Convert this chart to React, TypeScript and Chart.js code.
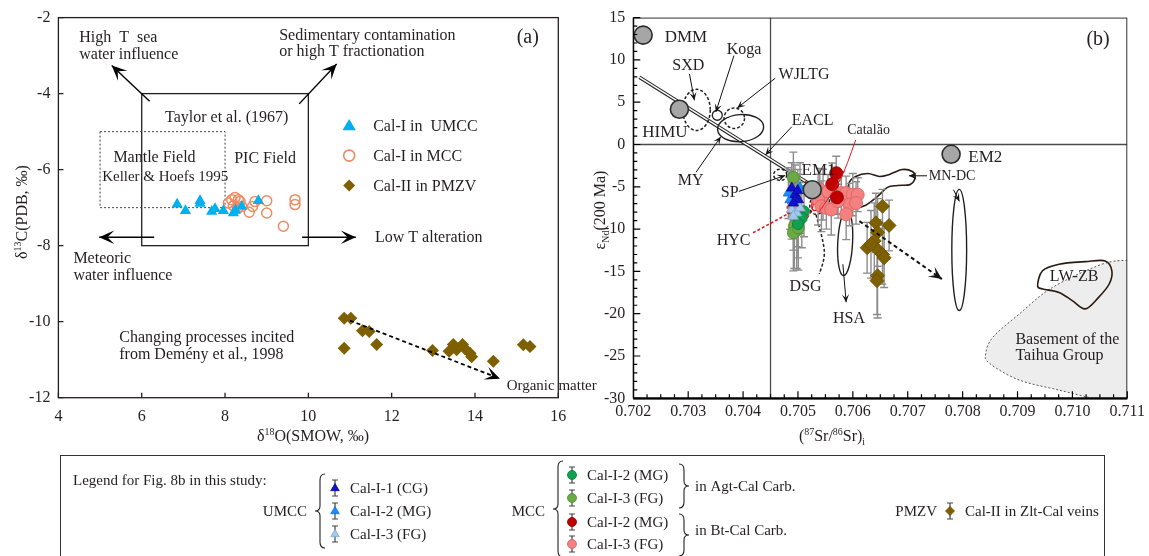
import React, { useEffect, useRef } from "react";
import { Chart, registerables } from "chart.js";
Chart.register(...registerables);

const FONT = '"Liberation Serif", "Times New Roman", serif';
const INK = "#231f20";

// ---------------- Panel (a) data ----------------
const d18OTicks = [4, 6, 8, 10, 12, 14, 16];
const d13CTicks = [-2, -4, -6, -8, -10, -12];

const umccA_d18O = [6.85, 7.05, 7.4, 7.4, 7.68, 7.76, 7.96, 8.2, 8.25, 8.4, 8.8];
const umccA_d13C = [-6.91, -7.08, -6.82, -6.89, -7.1, -7.03, -7.08, -7.14, -7.07, -6.97, -6.82];

const mccA_d18O = [8.08, 8.16, 8.24, 8.32, 8.36, 8.2, 8.3, 8.4, 8.58, 8.66, 8.72, 9.0, 9.0, 9.4, 9.68, 9.68];
const mccA_d13C = [-6.88, -6.79, -6.73, -6.79, -6.84, -6.95, -7.02, -6.97, -7.12, -6.97, -6.84, -6.82, -7.14, -7.49, -6.79, -6.92];

const pmzvA_d18O = [10.86, 11.02, 11.3, 11.46, 10.86, 11.64, 12.98, 13.38, 13.48, 13.56, 13.7, 13.76, 13.88, 13.92, 14.44, 15.16, 15.32];
const pmzvA_d13C = [-9.91, -9.91, -10.24, -10.26, -10.7, -10.6, -10.76, -10.78, -10.6, -10.74, -10.6, -10.71, -10.83, -10.92, -11.04, -10.61, -10.65];

// ---------------- Panel (b) data ----------------
const srTicks = [0.702, 0.703, 0.704, 0.705, 0.706, 0.707, 0.708, 0.709, 0.71, 0.711];
const ndTicks = [15, 10, 5, 0, -5, -10, -15, -20, -25, -30];
const srBulkEarth = 0.7045;
const ndChur = 0;

const endMemberNames = ["DMM", "HIMU", "EM1", "EM2"];
const endMemberSr = [0.70218, 0.70284, 0.70526, 0.70779];
const endMemberNd = [12.93, 4.17, -5.34, -1.16];
const kogaSr = [0.70353];
const kogaNd = [3.46];

const umccCG_Sr = [0.704886, 0.704947, 0.705007, 0.704916, 0.704994];
const umccCG_Nd = [-5.15, -5.93, -6.52, -6.91, -5.45];
const umccCG_Err = [3.0, 3.5, 3.0, 3.5, 2.5];

const umccMG_Sr = [0.704826, 0.704857, 0.705037];
const umccMG_Nd = [-5.74, -6.52, -5.15];
const umccMG_Err = [3.0, 3.5, 3.0];

const umccFG_Sr = [0.704886, 0.704976, 0.705037, 0.704916];
const umccFG_Nd = [-7.69, -8.09, -7.5, -8.48];
const umccFG_Err = [3.5, 4.0, 3.0, 4.0];

const agtMG_Sr = [0.70511, 0.70507, 0.705];
const agtMG_Nd = [-7.9, -8.7, -9.4];
const agtMG_Err = [3.0, 3.5, 4.0];

const agtFG_Sr = [0.704916, 0.704934, 0.704976, 0.704916, 0.705007];
const agtFG_Nd = [-3.9, -9.65, -10.15, -10.44, -9.85];
const agtFG_Err = [3.0, 5.0, 4.5, 4.5, 5.0];

const btMG_Sr = [0.705697, 0.705625, 0.70571];
const btMG_Nd = [-3.39, -4.68, -6.25];
const btMG_Err = [2.0, 2.5, 2.0];

const btFG_Sr = [0.705398, 0.705457, 0.705548, 0.705367, 0.705427, 0.705517, 0.705607, 0.705788, 0.705878, 0.705999, 0.706089, 0.705939, 0.706058, 0.705878, 0.70573];
const btFG_Nd = [-5.34, -5.93, -5.54, -6.52, -7.3, -7.5, -7.69, -5.74, -5.74, -5.93, -5.93, -7.1, -6.91, -8.24, -6.7];
const btFG_Err = [2.5, 3.0, 2.0, 3.0, 3.0, 2.5, 3.0, 2.5, 2.0, 2.5, 2.0, 2.5, 2.5, 3.0, 2.0];

const pmzvB_Sr = [0.70654, 0.70642, 0.70666, 0.70645, 0.70626, 0.70639, 0.70645, 0.70654, 0.70657, 0.70645, 0.70644, 0.70633];
const pmzvB_Nd = [-7.3, -9.26, -9.57, -10.4, -12.2, -11.4, -12.4, -13.0, -13.4, -15.5, -16.1, -11.8];
const pmzvB_Err = [2.0, 3.5, 3.0, 4.0, 3.0, 4.5, 3.5, 3.5, 3.5, 5.0, 4.0, 4.0];

// field outlines (data units)
const mnDcSr = [0.705908, 0.705926, 0.706052, 0.706269, 0.706486, 0.706666, 0.7069, 0.707081, 0.707135, 0.707045, 0.70681, 0.70663, 0.70645, 0.706234, 0.706017, 0.705908];
const mnDcNd = [-6.72, -4.6, -3.78, -3.43, -3.78, -3.54, -2.96, -3.19, -3.9, -4.72, -4.84, -5.07, -6.13, -7.18, -7.54, -7.18];
const lwZbSr = [0.709366, 0.709456, 0.709756, 0.710237, 0.710598, 0.710719, 0.71067, 0.710477, 0.710237, 0.709997, 0.709756, 0.709456];
const lwZbNd = [-16.69, -14.93, -14.15, -13.84, -13.76, -14.93, -16.49, -18.07, -19.43, -18.46, -17.48, -17.08];
const basementSr = [0.711, 0.710538, 0.709637, 0.709034, 0.708554, 0.708421, 0.708493, 0.709034, 0.709756, 0.710358];
const basementNd = [-13.68, -14.15, -16.89, -20.02, -22.76, -24.71, -25.89, -27.85, -29.03, -30.0];
const dsgTailSr = [0.70533, 0.70548, 0.70539];
const dsgTailNd = [-8.3, -12.6, -15.3];
const mantleArraySr = [0.70211, 0.70519];
const mantleArrayNd = [7.96, -4.57];

// ---------------- annotation layout ----------------
type P = [number, number];
const aBoxes = [
  { x0: 6, x1: 10, y0: -8, y1: -4, dash: [] as number[] },
  { x0: 5, x1: 8, y0: -7, y1: -5, dash: [2, 2] },
];
const aArrows: { from: P; to: P; dash?: number[] }[] = [
  { from: [6.19, -4.2], to: [5.28, -3.26] },
  { from: [9.78, -4.27], to: [10.68, -3.22] },
  { from: [6.3, -7.78], to: [4.98, -7.78] },
  { from: [9.85, -7.78], to: [11.14, -7.78] },
  { from: [11.0, -9.97], to: [14.6, -11.5], dash: [4, 3] },
];
const aLabels: { t: string; at: P; size?: number }[] = [
  { t: "High  T  sea", at: [4.5, -2.65] },
  { t: "water influence", at: [4.5, -3.09] },
  { t: "Sedimentary contamination", at: [9.3, -2.58] },
  { t: "or high T fractionation", at: [9.3, -3.02] },
  { t: "(a)", at: [15.0, -2.68], size: 20 },
  { t: "Taylor et al. (1967)", at: [6.56, -4.74] },
  { t: "Mantle Field", at: [5.32, -5.81] },
  { t: "Keller & Hoefs 1995", at: [5.05, -6.31], size: 15 },
  { t: "PIC Field", at: [8.22, -5.83] },
  { t: "Low T alteration", at: [11.6, -7.9] },
  { t: "Meteoric", at: [4.36, -8.46] },
  { t: "water influence", at: [4.36, -8.9] },
  { t: "Changing processes incited", at: [5.46, -10.54] },
  { t: "from Demény et al., 1998", at: [5.46, -10.97] },
  { t: "Organic matter", at: [14.76, -11.8], size: 15 },
];
const aLegendAt: P[] = [[10.98, -4.85], [10.98, -5.63], [10.98, -6.42]];

const bEllipses = [
  { c: [0.703152, 4.09], r: [0.00025, 2.43], dash: [3, 2], color: INK, rot: 0 },
  { c: [0.70384, 3.11], r: [0.000186, 1.21], dash: [3, 2], color: INK, rot: 0 },
  { c: [0.703955, 1.94], r: [0.00042, 1.6], dash: [], color: INK, rot: -4 },
  { c: [0.704677, -3.58], r: [0.00012, 0.67], dash: [3, 2], color: INK, rot: 0 },
  { c: [0.70505, -6.9], r: [0.00023, 2.55], dash: [3, 2], color: "#e8141c", rot: 15 },
  { c: [0.7054, -6.72], r: [0.00016, 1.64], dash: [3, 2], color: INK, rot: 28 },
  { c: [0.705364, -6.48], r: [0.00009, 1.41], dash: [], color: "#e8141c", rot: 20 },
  { c: [0.70586, -11.6], r: [0.000135, 3.9], dash: [], color: INK, rot: 3 },
  { c: [0.707938, -12.47], r: [0.000135, 7.16], dash: [], color: INK, rot: 0 },
];
const bArrows: { from: P; to: P; color?: string; dash?: number[]; head?: number }[] = [
  { from: [0.703023, 8.35], to: [0.703113, 5.22] },
  { from: [0.703834, 10.51], to: [0.703504, 3.85] },
  { from: [0.704586, 7.84], to: [0.703894, 4.32] },
  { from: [0.704886, 2.09], to: [0.704406, -1.23] },
  { from: [0.703143, -3.28], to: [0.703594, 0.92] },
  { from: [0.703924, -5.54], to: [0.704767, -3.66] },
  { from: [0.707351, -3.7], to: [0.707021, -3.7] },
  { from: [0.707833, -5.34], to: [0.707941, -6.72] },
  { from: [0.705818, -14.15], to: [0.705878, -18.65] },
  { from: [0.70612, -9.06], to: [0.707622, -15.91], dash: [4, 3], head: 13 },
];
const bLabels: { t: string; at: P; size?: number }[] = [
  { t: "DMM", at: [0.702572, 12.15], size: 17 },
  { t: "Koga", at: [0.703703, 10.7] },
  { t: "SXD", at: [0.702711, 8.75] },
  { t: "WJLTG", at: [0.704646, 7.69] },
  { t: "HIMU", at: [0.702162, 0.92], size: 17 },
  { t: "EACL", at: [0.704886, 2.29] },
  { t: "Catalão", at: [0.705896, 1.3], size: 14 },
  { t: "EM2", at: [0.708103, -2.02], size: 17 },
  { t: "MN-DC", at: [0.707382, -4.17], size: 14 },
  { t: "MY", at: [0.702812, -4.75] },
  { t: "SP", at: [0.703594, -6.2] },
  { t: "EM1", at: [0.705066, -3.58], size: 17 },
  { t: "(b)", at: [0.710256, 11.72], size: 20 },
  { t: "HYC", at: [0.703519, -11.92] },
  { t: "DSG", at: [0.704848, -17.28] },
  { t: "HSA", at: [0.705638, -21.07] },
  { t: "LW-ZB", at: [0.709588, -16.19] },
  { t: "Basement of the", at: [0.708962, -23.54] },
  { t: "Taihua Group", at: [0.708962, -25.5] },
];

// ---------------- helpers ----------------
const toPts = (xs: number[], ys: number[]) => xs.map((x, i) => ({ x, y: ys[i] }));

function txt(ctx: CanvasRenderingContext2D, s: string, x: number, y: number, size = 16, align: CanvasTextAlign = "left", color = INK) {
  ctx.font = `${size}px ${FONT}`;
  ctx.fillStyle = color;
  ctx.textAlign = align;
  ctx.textBaseline = "alphabetic";
  ctx.fillText(s, x, y);
}

type Part = { t: string; s?: "sup" | "sub" };
function rich(ctx: CanvasRenderingContext2D, parts: Part[], x: number, y: number, size: number, align: "left" | "center" = "left") {
  const small = size * 0.62;
  const widths = parts.map((p) => {
    ctx.font = `${p.s ? small : size}px ${FONT}`;
    return ctx.measureText(p.t).width;
  });
  const total = widths.reduce((a, b) => a + b, 0);
  let cx = align === "center" ? x - total / 2 : x;
  ctx.fillStyle = INK;
  ctx.textAlign = "left";
  ctx.textBaseline = "alphabetic";
  parts.forEach((p, i) => {
    ctx.font = `${p.s ? small : size}px ${FONT}`;
    const dy = p.s === "sup" ? -size * 0.4 : p.s === "sub" ? size * 0.22 : 0;
    ctx.fillText(p.t, cx, y + dy);
    cx += widths[i];
  });
}

function arrowHead(ctx: CanvasRenderingContext2D, x1: number, y1: number, x2: number, y2: number, len = 12) {
  const a = Math.atan2(y2 - y1, x2 - x1);
  ctx.save();
  ctx.translate(x2, y2);
  ctx.rotate(a);
  ctx.setLineDash([]);
  ctx.beginPath();
  ctx.moveTo(0, 0);
  ctx.lineTo(-len, -len * 0.45);
  ctx.lineTo(-len * 0.55, 0);
  ctx.lineTo(-len, len * 0.45);
  ctx.closePath();
  ctx.fill();
  ctx.restore();
}

function smoothPath(ctx: CanvasRenderingContext2D, pts: number[][], closed: boolean, start = true) {
  const n = pts.length;
  if (start) ctx.moveTo(pts[0][0], pts[0][1]);
  else ctx.lineTo(pts[0][0], pts[0][1]);
  const segs = closed ? n : n - 1;
  for (let i = 0; i < segs; i++) {
    const p0 = closed ? pts[(i - 1 + n) % n] : pts[Math.max(0, i - 1)];
    const p1 = pts[i];
    const p2 = pts[(i + 1) % n];
    const p3 = closed ? pts[(i + 2) % n] : pts[Math.min(n - 1, i + 2)];
    ctx.bezierCurveTo(
      p1[0] + (p2[0] - p0[0]) / 6, p1[1] + (p2[1] - p0[1]) / 6,
      p2[0] - (p3[0] - p1[0]) / 6, p2[1] - (p3[1] - p1[1]) / 6,
      p2[0], p2[1]
    );
  }
  if (closed) ctx.closePath();
}

function marker(ctx: CanvasRenderingContext2D, style: string, x: number, y: number, r: number, fill: string, stroke: string, lw = 1) {
  ctx.save();
  ctx.setLineDash([]);
  ctx.beginPath();
  if (style === "triangle") {
    ctx.moveTo(x, y - r);
    ctx.lineTo(x + r * 0.95, y + r * 0.6);
    ctx.lineTo(x - r * 0.95, y + r * 0.6);
    ctx.closePath();
  } else if (style === "rectRot") {
    ctx.moveTo(x, y - r);
    ctx.lineTo(x + r, y);
    ctx.lineTo(x, y + r);
    ctx.lineTo(x - r, y);
    ctx.closePath();
  } else {
    ctx.arc(x, y, r, 0, Math.PI * 2);
  }
  if (fill !== "none") {
    ctx.fillStyle = fill;
    ctx.fill();
  }
  if (stroke !== "none") {
    ctx.strokeStyle = stroke;
    ctx.lineWidth = lw;
    ctx.stroke();
  }
  ctx.restore();
}

function brace(ctx: CanvasRenderingContext2D, x: number, y1: number, y2: number, dir: number) {
  const w = 5;
  const ym = (y1 + y2) / 2;
  ctx.beginPath();
  ctx.moveTo(x + w * dir, y1);
  ctx.quadraticCurveTo(x, y1, x, y1 + 6);
  ctx.lineTo(x, ym - 5);
  ctx.quadraticCurveTo(x, ym, x - w * dir, ym);
  ctx.quadraticCurveTo(x, ym, x, ym + 5);
  ctx.lineTo(x, y2 - 6);
  ctx.quadraticCurveTo(x, y2, x + w * dir, y2);
  ctx.stroke();
}

// ---------------- panel (b) series definitions ----------------
const bSeries = [
  { label: "UMCC Cal-I-1 (CG)", sr: umccCG_Sr, nd: umccCG_Nd, err: umccCG_Err, style: "triangle", fill: "#1010d0", stroke: "#0a0a90", r: 6 },
  { label: "UMCC Cal-I-2 (MG)", sr: umccMG_Sr, nd: umccMG_Nd, err: umccMG_Err, style: "triangle", fill: "#1a8cff", stroke: "#1070d0", r: 6 },
  { label: "UMCC Cal-I-3 (FG)", sr: umccFG_Sr, nd: umccFG_Nd, err: umccFG_Err, style: "triangle", fill: "#a4c8ec", stroke: "#80a8d0", r: 6 },
  { label: "MCC Agt Cal-I-2 (MG)", sr: agtMG_Sr, nd: agtMG_Nd, err: agtMG_Err, style: "circle", fill: "#10a050", stroke: "#0a7a3a", r: 5.5 },
  { label: "MCC Agt Cal-I-3 (FG)", sr: agtFG_Sr, nd: agtFG_Nd, err: agtFG_Err, style: "circle", fill: "#6aaa44", stroke: "#4e8a30", r: 6 },
  { label: "MCC Bt Cal-I-2 (MG)", sr: btMG_Sr, nd: btMG_Nd, err: btMG_Err, style: "circle", fill: "#c00000", stroke: "#8a0000", r: 6.5 },
  { label: "MCC Bt Cal-I-3 (FG)", sr: btFG_Sr, nd: btFG_Nd, err: btFG_Err, style: "circle", fill: "#f48080", stroke: "#d86060", r: 6.5 },
  { label: "PMZV Cal-II", sr: pmzvB_Sr, nd: pmzvB_Nd, err: pmzvB_Err, style: "rectRot", fill: "#7f6000", stroke: "#6a5000", r: 7 },
];

// ---------------- plugins ----------------
const panelAPlugin = {
  id: "panelA",
  beforeDatasetsDraw(chart: any) {
    const { ctx } = chart;
    const X = (v: number) => chart.scales.x.getPixelForValue(v);
    const Y = (v: number) => chart.scales.y.getPixelForValue(v);
    ctx.save();
    aBoxes.forEach((b) => {
      ctx.strokeStyle = b.dash.length ? "#444" : INK;
      ctx.lineWidth = b.dash.length ? 1 : 1.3;
      ctx.setLineDash(b.dash);
      ctx.strokeRect(X(b.x0), Y(b.y1), X(b.x1) - X(b.x0), Y(b.y0) - Y(b.y1));
    });
    ctx.restore();
  },
  afterDatasetsDraw(chart: any) {
    const { ctx } = chart;
    const X = (v: number) => chart.scales.x.getPixelForValue(v);
    const Y = (v: number) => chart.scales.y.getPixelForValue(v);
    ctx.save();
    ctx.strokeStyle = "#000";
    ctx.fillStyle = "#000";
    aArrows.forEach((a) => {
      const x1 = X(a.from[0]), y1 = Y(a.from[1]), x2 = X(a.to[0]), y2 = Y(a.to[1]);
      ctx.lineWidth = a.dash ? 1.8 : 1.4;
      ctx.setLineDash(a.dash || []);
      ctx.beginPath();
      ctx.moveTo(x1, y1);
      ctx.lineTo(x2, y2);
      ctx.stroke();
      arrowHead(ctx, x1, y1, x2, y2, 15);
    });
    ctx.setLineDash([]);
    aLabels.forEach((l) => txt(ctx, l.t, X(l.at[0]), Y(l.at[1]), l.size || 16));
    // inner legend
    const ds = chart.data.datasets;
    aLegendAt.forEach((p, i) => {
      const d = ds[i];
      const x = X(p[0]), y = Y(p[1]);
      if (i === 0) marker(ctx, "triangle", x, y, 7, d.backgroundColor, "none");
      if (i === 1) marker(ctx, "circle", x, y, 5.5, "none", d.borderColor, 1.6);
      if (i === 2) marker(ctx, "rectRot", x, y, 6, d.backgroundColor, "none");
      txt(ctx, d.label, x + 24, y + 5, 16);
    });
    ctx.restore();
  },
  afterDraw(chart: any) {
    const { ctx, chartArea: ca } = chart;
    const X = (v: number) => chart.scales.x.getPixelForValue(v);
    const Y = (v: number) => chart.scales.y.getPixelForValue(v);
    ctx.save();
    ctx.strokeStyle = INK;
    ctx.lineWidth = 1.3;
    ctx.setLineDash([]);
    ctx.strokeRect(ca.left, ca.top, ca.right - ca.left, ca.bottom - ca.top);
    ctx.beginPath();
    d18OTicks.forEach((v) => {
      ctx.moveTo(X(v), ca.bottom);
      ctx.lineTo(X(v), ca.bottom - 5);
    });
    d13CTicks.forEach((v) => {
      ctx.moveTo(ca.left, Y(v));
      ctx.lineTo(ca.left + 5, Y(v));
    });
    ctx.stroke();
    // axis titles
    rich(ctx, [{ t: "δ" }, { t: "18", s: "sup" }, { t: "O(SMOW, ‰)" }], 313, 441, 16, "center");
    ctx.save();
    ctx.translate(27, 212);
    ctx.rotate(-Math.PI / 2);
    rich(ctx, [{ t: "δ" }, { t: "13", s: "sup" }, { t: "C(PDB, ‰)" }], 0, 0, 16, "center");
    ctx.restore();

    // -------- bottom legend box (for panel b) --------
    ctx.strokeStyle = "#333";
    ctx.lineWidth = 1;
    ctx.strokeRect(60.5, 455.5, 1044, 130);
    const LS = 15;
    txt(ctx, "Legend for Fig. 8b in this study:", 73, 485, LS);
    const row = (s: any, x: number, y: number, label: string) => {
      ctx.strokeStyle = "#444";
      ctx.lineWidth = 1.2;
      ctx.beginPath();
      ctx.moveTo(x, y - 8); ctx.lineTo(x, y + 8);
      ctx.moveTo(x - 3, y - 8); ctx.lineTo(x + 3, y - 8);
      ctx.moveTo(x - 3, y + 8); ctx.lineTo(x + 3, y + 8);
      ctx.stroke();
      marker(ctx, s.style, x, y, 4.5, s.fill, s.stroke, 0.8);
      txt(ctx, label, x + 15, y + 5, LS);
    };
    txt(ctx, "UMCC", 307, 516, LS, "right");
    ctx.strokeStyle = INK; ctx.lineWidth = 1.1;
    brace(ctx, 320, 474, 548, 1);
    row(bSeries[0], 335, 488, "Cal-I-1 (CG)");
    row(bSeries[1], 335, 511, "Cal-I-2 (MG)");
    row(bSeries[2], 335, 534, "Cal-I-3 (FG)");

    txt(ctx, "MCC", 545, 516, LS, "right");
    ctx.strokeStyle = INK; ctx.lineWidth = 1.1;
    brace(ctx, 558, 461, 557, 1);
    row(bSeries[3], 572, 475, "Cal-I-2 (MG)");
    row(bSeries[4], 572, 498, "Cal-I-3 (FG)");
    row(bSeries[5], 572, 522, "Cal-I-2 (MG)");
    row(bSeries[6], 572, 544, "Cal-I-3 (FG)");
    ctx.strokeStyle = INK; ctx.lineWidth = 1.1;
    brace(ctx, 684, 464, 508, -1);
    brace(ctx, 684, 514, 556, -1);
    txt(ctx, "in Agt-Cal Carb.", 695, 491, LS);
    txt(ctx, "in Bt-Cal Carb.", 695, 535, LS);

    txt(ctx, "PMZV", 937, 516, LS, "right");
    row(bSeries[7], 950, 511, "Cal-II in Zlt-Cal veins");
    ctx.restore();
  },
};

const panelBPlugin = {
  id: "panelB",
  beforeDatasetsDraw(chart: any) {
    const { ctx, chartArea: ca } = chart;
    const X = (v: number) => chart.scales.x.getPixelForValue(v);
    const Y = (v: number) => chart.scales.y.getPixelForValue(v);
    ctx.save();
    ctx.beginPath();
    ctx.rect(ca.left, ca.top, ca.right - ca.left, ca.bottom - ca.top);
    ctx.clip();

    // basement of the Taihua Group
    const bp = basementSr.map((v, i) => [X(v), Y(basementNd[i])]);
    ctx.beginPath();
    smoothPath(ctx, bp, false);
    ctx.lineTo(ca.right + 2, ca.bottom + 2);
    ctx.lineTo(ca.right + 2, bp[0][1]);
    ctx.closePath();
    ctx.fillStyle = "#ededed";
    ctx.fill();
    ctx.beginPath();
    smoothPath(ctx, bp, false);
    ctx.strokeStyle = "#444";
    ctx.lineWidth = 0.9;
    ctx.setLineDash([2, 2]);
    ctx.stroke();
    ctx.setLineDash([]);

    // reference lines
    ctx.strokeStyle = "#4a4a4a";
    ctx.lineWidth = 1.3;
    ctx.beginPath();
    ctx.moveTo(X(srBulkEarth), ca.top);
    ctx.lineTo(X(srBulkEarth), ca.bottom);
    ctx.moveTo(ca.left, Y(ndChur));
    ctx.lineTo(ca.right, Y(ndChur));
    ctx.stroke();

    // mantle array (double line)
    ctx.beginPath();
    ctx.moveTo(X(mantleArraySr[0]), Y(mantleArrayNd[0]));
    ctx.lineTo(X(mantleArraySr[1]), Y(mantleArrayNd[1]));
    ctx.strokeStyle = "#222";
    ctx.lineWidth = 3.6;
    ctx.stroke();
    ctx.strokeStyle = "#fff";
    ctx.lineWidth = 1.4;
    ctx.stroke();

    // ellipses
    bEllipses.forEach((e) => {
      const cx = X(e.c[0]), cy = Y(e.c[1]);
      const rx = Math.abs(X(e.c[0] + e.r[0]) - cx);
      const ry = Math.abs(Y(e.c[1] + e.r[1]) - cy);
      ctx.beginPath();
      ctx.ellipse(cx, cy, rx, ry, (e.rot * Math.PI) / 180, 0, Math.PI * 2);
      ctx.strokeStyle = e.color;
      ctx.lineWidth = e.dash.length ? 1.5 : 1.4;
      ctx.setLineDash(e.dash);
      ctx.stroke();
    });
    ctx.setLineDash([]);

    // DSG tail
    ctx.beginPath();
    smoothPath(ctx, dsgTailSr.map((v, i) => [X(v), Y(dsgTailNd[i])]), false);
    ctx.strokeStyle = INK;
    ctx.lineWidth = 1.5;
    ctx.setLineDash([3, 2]);
    ctx.stroke();
    ctx.setLineDash([]);

    // blobs
    [[mnDcSr, mnDcNd], [lwZbSr, lwZbNd]].forEach(([xs, ys]) => {
      ctx.beginPath();
      smoothPath(ctx, xs.map((v, i) => [X(v), Y(ys[i])]), true);
      ctx.strokeStyle = "#2a1a14";
      ctx.lineWidth = 1.6;
      ctx.stroke();
    });

    // error bars
    chart.data.datasets.forEach((d: any, di: number) => {
      if (!d.errors) return;
      const meta = chart.getDatasetMeta(di);
      ctx.strokeStyle = "#8c8c8c";
      ctx.lineWidth = 1.4;
      ctx.beginPath();
      meta.data.forEach((el: any, j: number) => {
        const v = d.data[j].y;
        const t = Y(v + d.errors[j]);
        const b = Y(v - d.errors[j]);
        ctx.moveTo(el.x, t); ctx.lineTo(el.x, b);
        ctx.moveTo(el.x - 4, t); ctx.lineTo(el.x + 4, t);
        ctx.moveTo(el.x - 4, b); ctx.lineTo(el.x + 4, b);
      });
      ctx.stroke();
    });
    ctx.restore();
  },
  afterDatasetsDraw(chart: any) {
    const { ctx } = chart;
    const X = (v: number) => chart.scales.x.getPixelForValue(v);
    const Y = (v: number) => chart.scales.y.getPixelForValue(v);
    ctx.save();
    // Catalão leader
    ctx.beginPath();
    smoothPath(ctx, [[X(0.706053), Y(0.56)], [X(0.70578), Y(-4.0)], [X(0.705385), Y(-7.95)]], false);
    ctx.strokeStyle = "#e8141c";
    ctx.lineWidth = 1;
    ctx.stroke();
    // HYC leader
    ctx.beginPath();
    ctx.moveTo(X(0.704182), Y(-10.44));
    ctx.lineTo(X(0.704848), Y(-8.09));
    ctx.lineWidth = 1.6;
    ctx.setLineDash([3, 2]);
    ctx.stroke();
    ctx.setLineDash([]);
    // arrows
    ctx.fillStyle = "#111";
    ctx.strokeStyle = "#111";
    bArrows.forEach((a) => {
      const x1 = X(a.from[0]), y1 = Y(a.from[1]), x2 = X(a.to[0]), y2 = Y(a.to[1]);
      ctx.lineWidth = a.dash ? 2 : 1;
      ctx.setLineDash(a.dash || []);
      ctx.beginPath();
      ctx.moveTo(x1, y1);
      ctx.lineTo(x2, y2);
      ctx.stroke();
      arrowHead(ctx, x1, y1, x2, y2, a.head || 8);
    });
    ctx.setLineDash([]);
    bLabels.forEach((l) => txt(ctx, l.t, X(l.at[0]), Y(l.at[1]), l.size || 16));
    ctx.restore();
  },
  afterDraw(chart: any) {
    const { ctx, chartArea: ca } = chart;
    const X = (v: number) => chart.scales.x.getPixelForValue(v);
    const Y = (v: number) => chart.scales.y.getPixelForValue(v);
    ctx.save();
    ctx.strokeStyle = "#333";
    ctx.lineWidth = 1;
    ctx.strokeRect(ca.left + 0.5, ca.top + 0.5, ca.right - ca.left - 1, ca.bottom - ca.top);
    ctx.strokeStyle = "#000";
    ctx.lineWidth = 2.2;
    ctx.beginPath();
    ctx.moveTo(ca.left, ca.bottom);
    ctx.lineTo(ca.right, ca.bottom);
    ctx.stroke();
    ctx.lineWidth = 1.2;
    ctx.beginPath();
    ctx.moveTo(ca.left, ca.top);
    ctx.lineTo(ca.left, ca.bottom);
    // minor + major ticks
    for (let k = 0; k <= 36; k++) {
      const v = srTicks[0] + k * 0.00025;
      const len = k % 4 === 0 ? 7 : 4;
      ctx.moveTo(X(v), ca.bottom);
      ctx.lineTo(X(v), ca.bottom - len);
    }
    for (let k = 0; k <= 45; k++) {
      const v = ndTicks[ndTicks.length - 1] + k;
      const len = k % 5 === 0 ? 7 : 4;
      ctx.moveTo(ca.left, Y(v));
      ctx.lineTo(ca.left + len, Y(v));
    }
    ctx.stroke();
    rich(ctx, [{ t: "(" }, { t: "87", s: "sup" }, { t: "Sr/" }, { t: "86", s: "sup" }, { t: "Sr)" }, { t: "i", s: "sub" }], 832 - 580, 441, 16, "center");
    ctx.save();
    ctx.translate(25, 210);
    ctx.rotate(-Math.PI / 2);
    rich(ctx, [{ t: "ε" }, { t: "Nd", s: "sub" }, { t: "(200 Ma)" }], 0, 0, 16, "center");
    ctx.restore();
    ctx.restore();
  },
};

function configA(): any {
  return {
    type: "scatter",
    data: {
      datasets: [
        { label: "Cal-I in  UMCC", data: toPts(umccA_d18O, umccA_d13C), pointStyle: "triangle", pointRadius: 6.5, backgroundColor: "#00b0f0", borderColor: "#00b0f0", borderWidth: 0 },
        { label: "Cal-I in MCC", data: toPts(mccA_d18O, mccA_d13C), pointStyle: "circle", pointRadius: 5, backgroundColor: "rgba(0,0,0,0)", borderColor: "#ef8a62", borderWidth: 1.5 },
        { label: "Cal-II in PMZV", data: toPts(pmzvA_d18O, pmzvA_d13C), pointStyle: "rectRot", pointRadius: 6.5, backgroundColor: "#7f6000", borderColor: "#7f6000", borderWidth: 0 },
      ],
    },
    options: {
      responsive: false,
      animation: false,
      events: [],
      layout: { padding: { left: 0, top: 15, right: 1149 - 558.3, bottom: 0 }, autoPadding: false },
      plugins: { legend: { display: false }, tooltip: { enabled: false } },
      scales: {
        x: {
          type: "linear", min: 4, max: 16,
          afterBuildTicks: (s: any) => { s.ticks = d18OTicks.map((v) => ({ value: v })); },
          afterFit: (s: any) => { s.height = 556 - 397.7; },
          grid: { display: false, drawTicks: false }, border: { display: false },
          ticks: { font: { family: FONT, size: 16 }, color: INK, padding: 9, callback: (v: any) => String(v) },
        },
        y: {
          type: "linear", min: -12, max: -2,
          afterBuildTicks: (s: any) => { s.ticks = d13CTicks.map((v) => ({ value: v })); },
          afterFit: (s: any) => { s.width = 58.4; },
          grid: { display: false, drawTicks: false }, border: { display: false },
          ticks: { font: { family: FONT, size: 16 }, color: INK, padding: 8, callback: (v: any) => String(v) },
        },
      },
    },
    plugins: [panelAPlugin],
  };
}

function configB(): any {
  const datasets: any[] = [
    { label: "End members", data: toPts(endMemberSr, endMemberNd), names: endMemberNames, pointStyle: "circle", pointRadius: 9, backgroundColor: "#a6a6a6", borderColor: "#2b2b2b", borderWidth: 1.6 },
    { label: "Koga", data: toPts(kogaSr, kogaNd), pointStyle: "circle", pointRadius: 5, backgroundColor: "#ffffff", borderColor: "#222", borderWidth: 1.3 },
  ];
  bSeries.forEach((s) => {
    datasets.push({
      label: s.label,
      data: toPts(s.sr, s.nd),
      errors: s.err,
      pointStyle: s.style,
      pointRadius: s.r,
      backgroundColor: s.fill,
      borderColor: s.stroke,
      borderWidth: 0.8,
    });
  });
  return {
    type: "scatter",
    data: { datasets },
    options: {
      responsive: false,
      animation: false,
      events: [],
      layout: { padding: { left: 0, top: 15, right: 569 - 552.3, bottom: 0 }, autoPadding: false },
      plugins: { legend: { display: false }, tooltip: { enabled: false } },
      scales: {
        x: {
          type: "linear", min: 0.702, max: 0.711,
          afterBuildTicks: (s: any) => { s.ticks = srTicks.map((v) => ({ value: v })); },
          afterFit: (s: any) => { s.height = 556 - 398.3; },
          grid: { display: false, drawTicks: false }, border: { display: false },
          ticks: { font: { family: FONT, size: 16 }, color: INK, padding: 4, callback: (v: any) => Number(v).toFixed(3) },
        },
        y: {
          type: "linear", min: -30, max: 15,
          afterBuildTicks: (s: any) => { s.ticks = ndTicks.map((v) => ({ value: v })); },
          afterFit: (s: any) => { s.width = 53.3; },
          grid: { display: false, drawTicks: false }, border: { display: false },
          ticks: { font: { family: FONT, size: 16 }, color: INK, padding: 8, callback: (v: any) => String(v) },
        },
      },
    },
    plugins: [panelBPlugin],
  };
}

export default function App() {
  const refA = useRef<HTMLCanvasElement>(null);
  const refB = useRef<HTMLCanvasElement>(null);
  useEffect(() => {
    const a = new Chart(refA.current as HTMLCanvasElement, configA());
    const b = new Chart(refB.current as HTMLCanvasElement, configB());
    return () => {
      a.destroy();
      b.destroy();
    };
  }, []);
  return (
    <div style={{ position: "fixed", left: 0, top: 0, width: 1149, height: 556, background: "#fff", overflow: "hidden" }}>
      <canvas ref={refA} width={1149} height={556} style={{ position: "absolute", left: 0, top: 0, width: 1149, height: 556 }} />
      <canvas ref={refB} width={569} height={556} style={{ position: "absolute", left: 580, top: 0, width: 569, height: 556 }} />
    </div>
  );
}
